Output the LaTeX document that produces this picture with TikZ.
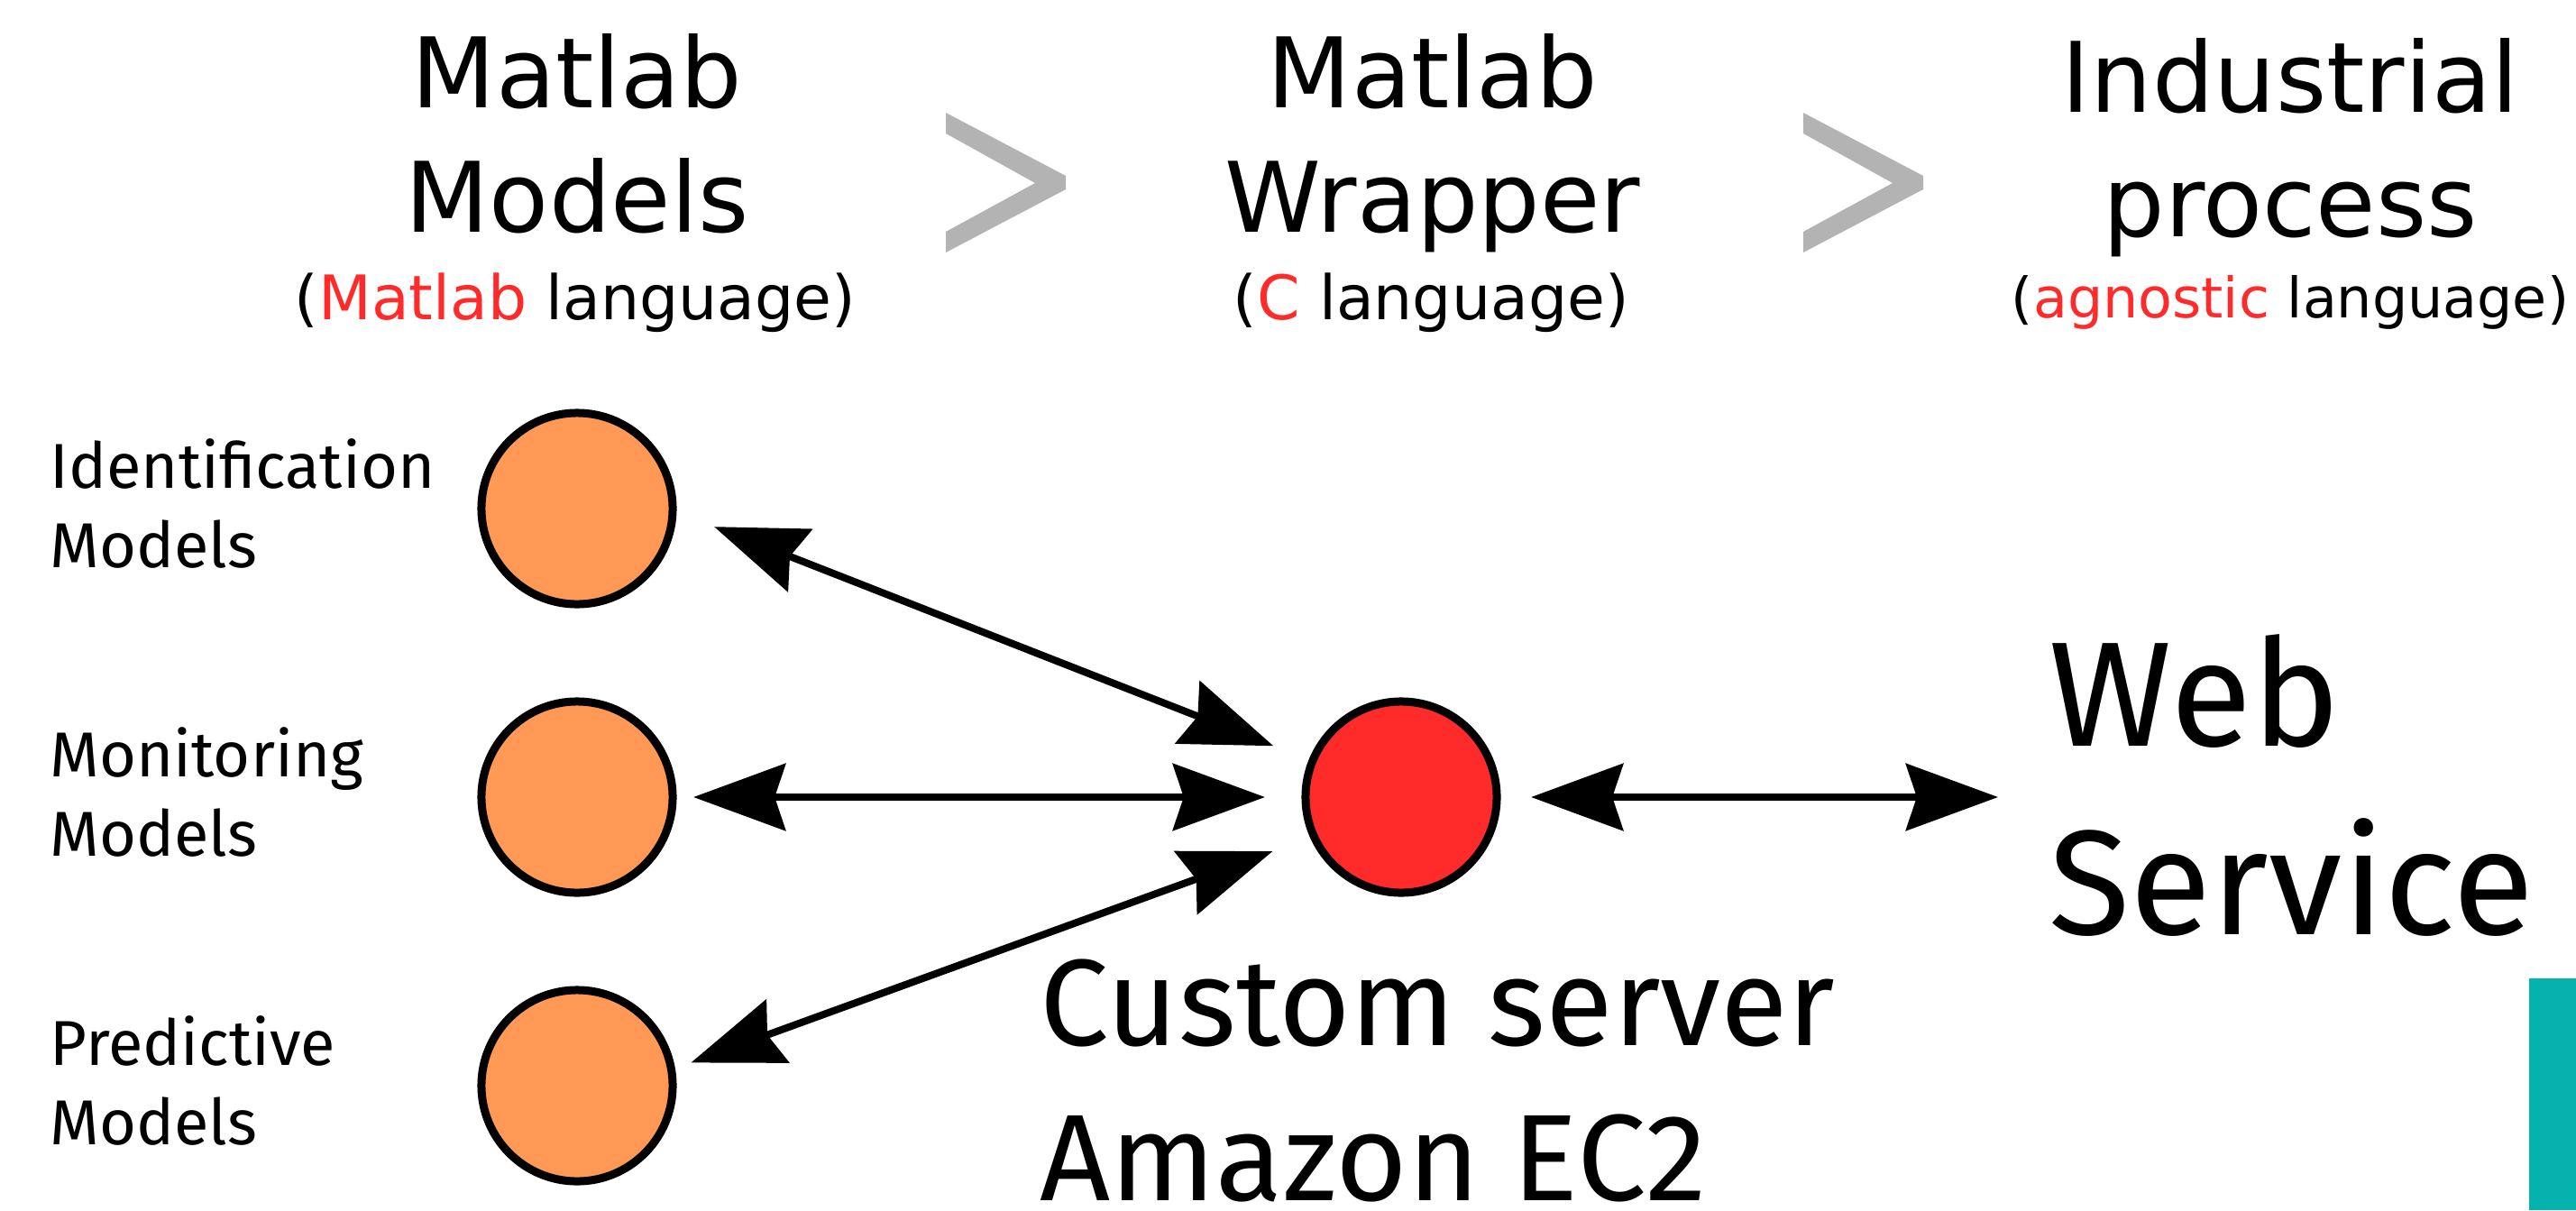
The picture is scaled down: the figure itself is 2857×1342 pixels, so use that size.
\documentclass[tikz,border=0pt]{standalone}
\usepackage{fontspec}
\setmainfont{DejaVu Sans}
\newfontfamily\labelfont{Fira Sans}
\usetikzlibrary{arrows.meta}
\definecolor{modelorange}{HTML}{FF9955}
\definecolor{serverred}{HTML}{FF2A2A}
\definecolor{chevgray}{HTML}{B3B3B3}
\definecolor{barteal}{HTML}{05B2AD}

\begin{document}
\begin{tikzpicture}[x=0.01cm, y=-0.01cm,
    model/.style={circle, draw, line width=2.56pt, minimum size=2.12cm, inner sep=0pt},
    headtext/.style={align=center, anchor=base, inner sep=0pt, font=\fontsize{30.7}{39}\selectfont},
    subtext/.style={anchor=base, inner sep=0pt, font=\fontsize{19.35}{23}\selectfont},
    modellabel/.style={align=left, anchor=base west, inner sep=0pt, font=\labelfont\fontsize{20}{24.75}\selectfont},
    biarrow/.style={line width=2.28pt, {Stealth[length=1.02cm, width=0.74cm, inset=0.12cm]}-{Stealth[length=1.02cm, width=0.74cm, inset=0.12cm]}}
]
    \useasboundingbox (0,0) rectangle (2857,1342);

    \node[headtext] (mm) at (640,257) {Matlab\\Models};
    \node[subtext] (mml) at (638,354) {(\textcolor{serverred}{Matlab} language)};
    \node[headtext] (mw) at (1589,257) {Matlab\\Wrapper};
    \node[subtext] (mwl) at (1587,354) {(\textcolor{serverred}{C} language)};
    \node[headtext] (ip) at (2540,262) {Industrial\\process};
    \node[subtext, font=\fontsize{17.6}{21}\selectfont] (ipl) at (2540,352) {(\textcolor{serverred}{agnostic} language)};

    \foreach \x in {0, 951} {
        \fill[chevgray, xshift=\x*0.01cm] (1049,125) -- (1182,195) -- (1182,210) -- (1049,280)
            -- (1049,257) -- (1148,203) -- (1049,148) -- cycle;
    }

    \foreach \n/\y/\name in {1/564/Identification, 2/884/Monitoring, 3/1204/Predictive} {
        \node[model, fill=modelorange] (m\n) at (640,\y) {};
        \node[modellabel] (l\n) at (55,{\y+65}) {\name\\Models};
    }
    \node[model, fill=serverred] (srv) at (1554,884) {};
    \node[modellabel, font=\labelfont\fontsize{38.8}{48.7}\selectfont] (srvlabel) at (1153,1331) {Custom server\\Amazon EC2};
    \node[modellabel, font=\labelfont\fontsize{47}{59.2}\selectfont] (web) at (2272,1036) {Web\\Service};

    \draw[biarrow, shorten <=0.447cm, shorten >=0.421cm] (m1.-2) -- (srv.158.5);
    \draw[biarrow, shorten <=0.185cm, shorten >=0.405cm] (m2.0) -- (srv.180);
    \draw[biarrow, shorten <=0.186cm, shorten >=0.443cm] (m3.10.8) -- (srv.-156.6);
    \draw[biarrow, shorten <=0.335cm, shorten >=0.56cm] (srv.0) -- (srv.0 -| web.west);

    \fill[barteal] (2805,1085) rectangle (2857,1342);
\end{tikzpicture}
\end{document}
